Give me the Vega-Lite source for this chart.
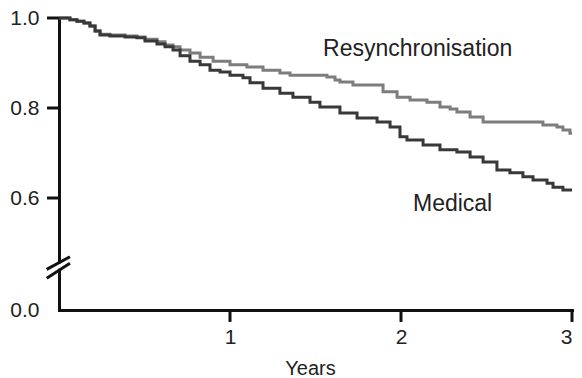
{
  "$schema": "https://vega.github.io/schema/vega-lite/v6.json",
  "autosize": "none",
  "width": 513,
  "height": 292,
  "padding": {"left": 59, "top": 18, "right": 10, "bottom": 68},
  "background": "white",
  "config": {
    "view": {"stroke": null},
    "font": "Liberation Sans"
  },
  "datasets": {
    "survival": [
      {"group": "Resynchronisation", "years": 0, "survival": 1.0},
      {"group": "Resynchronisation", "years": 0.041, "survival": 1.0},
      {"group": "Resynchronisation", "years": 0.064, "survival": 0.996},
      {"group": "Resynchronisation", "years": 0.105, "survival": 0.993},
      {"group": "Resynchronisation", "years": 0.146, "survival": 0.989},
      {"group": "Resynchronisation", "years": 0.181, "survival": 0.982},
      {"group": "Resynchronisation", "years": 0.211, "survival": 0.971},
      {"group": "Resynchronisation", "years": 0.240, "survival": 0.964},
      {"group": "Resynchronisation", "years": 0.298, "survival": 0.962},
      {"group": "Resynchronisation", "years": 0.386, "survival": 0.960},
      {"group": "Resynchronisation", "years": 0.456, "survival": 0.958},
      {"group": "Resynchronisation", "years": 0.503, "survival": 0.953},
      {"group": "Resynchronisation", "years": 0.573, "survival": 0.947},
      {"group": "Resynchronisation", "years": 0.620, "survival": 0.940},
      {"group": "Resynchronisation", "years": 0.667, "survival": 0.936},
      {"group": "Resynchronisation", "years": 0.708, "survival": 0.929},
      {"group": "Resynchronisation", "years": 0.766, "survival": 0.922},
      {"group": "Resynchronisation", "years": 0.825, "survival": 0.913},
      {"group": "Resynchronisation", "years": 0.901, "survival": 0.904},
      {"group": "Resynchronisation", "years": 1.000, "survival": 0.896},
      {"group": "Resynchronisation", "years": 1.099, "survival": 0.891},
      {"group": "Resynchronisation", "years": 1.193, "survival": 0.884},
      {"group": "Resynchronisation", "years": 1.292, "survival": 0.878},
      {"group": "Resynchronisation", "years": 1.351, "survival": 0.873},
      {"group": "Resynchronisation", "years": 1.468, "survival": 0.873},
      {"group": "Resynchronisation", "years": 1.567, "survival": 0.869},
      {"group": "Resynchronisation", "years": 1.614, "survival": 0.862},
      {"group": "Resynchronisation", "years": 1.643, "survival": 0.858},
      {"group": "Resynchronisation", "years": 1.719, "survival": 0.851},
      {"group": "Resynchronisation", "years": 1.819, "survival": 0.851},
      {"group": "Resynchronisation", "years": 1.895, "survival": 0.836},
      {"group": "Resynchronisation", "years": 1.977, "survival": 0.824},
      {"group": "Resynchronisation", "years": 2.053, "survival": 0.818},
      {"group": "Resynchronisation", "years": 2.152, "survival": 0.813},
      {"group": "Resynchronisation", "years": 2.228, "survival": 0.802},
      {"group": "Resynchronisation", "years": 2.287, "survival": 0.798},
      {"group": "Resynchronisation", "years": 2.327, "survival": 0.791},
      {"group": "Resynchronisation", "years": 2.404, "survival": 0.780},
      {"group": "Resynchronisation", "years": 2.480, "survival": 0.769},
      {"group": "Resynchronisation", "years": 2.795, "survival": 0.769},
      {"group": "Resynchronisation", "years": 2.830, "survival": 0.762},
      {"group": "Resynchronisation", "years": 2.912, "survival": 0.758},
      {"group": "Resynchronisation", "years": 2.947, "survival": 0.751},
      {"group": "Resynchronisation", "years": 2.988, "survival": 0.744},
      {"group": "Resynchronisation", "years": 3.0, "survival": 0.744},
      {"group": "Medical", "years": 0, "survival": 1.0},
      {"group": "Medical", "years": 0.041, "survival": 1.0},
      {"group": "Medical", "years": 0.064, "survival": 0.996},
      {"group": "Medical", "years": 0.105, "survival": 0.993},
      {"group": "Medical", "years": 0.146, "survival": 0.989},
      {"group": "Medical", "years": 0.181, "survival": 0.982},
      {"group": "Medical", "years": 0.211, "survival": 0.971},
      {"group": "Medical", "years": 0.240, "survival": 0.962},
      {"group": "Medical", "years": 0.298, "survival": 0.960},
      {"group": "Medical", "years": 0.386, "survival": 0.958},
      {"group": "Medical", "years": 0.456, "survival": 0.956},
      {"group": "Medical", "years": 0.503, "survival": 0.949},
      {"group": "Medical", "years": 0.573, "survival": 0.942},
      {"group": "Medical", "years": 0.620, "survival": 0.936},
      {"group": "Medical", "years": 0.667, "survival": 0.929},
      {"group": "Medical", "years": 0.708, "survival": 0.916},
      {"group": "Medical", "years": 0.766, "survival": 0.904},
      {"group": "Medical", "years": 0.825, "survival": 0.896},
      {"group": "Medical", "years": 0.883, "survival": 0.884},
      {"group": "Medical", "years": 0.942, "survival": 0.880},
      {"group": "Medical", "years": 1.000, "survival": 0.873},
      {"group": "Medical", "years": 1.076, "survival": 0.867},
      {"group": "Medical", "years": 1.117, "survival": 0.856},
      {"group": "Medical", "years": 1.193, "survival": 0.844},
      {"group": "Medical", "years": 1.292, "survival": 0.833},
      {"group": "Medical", "years": 1.368, "survival": 0.824},
      {"group": "Medical", "years": 1.468, "survival": 0.813},
      {"group": "Medical", "years": 1.526, "survival": 0.802},
      {"group": "Medical", "years": 1.643, "survival": 0.789},
      {"group": "Medical", "years": 1.743, "survival": 0.778},
      {"group": "Medical", "years": 1.860, "survival": 0.769},
      {"group": "Medical", "years": 1.936, "survival": 0.758},
      {"group": "Medical", "years": 1.994, "survival": 0.736},
      {"group": "Medical", "years": 2.035, "survival": 0.729},
      {"group": "Medical", "years": 2.129, "survival": 0.718},
      {"group": "Medical", "years": 2.228, "survival": 0.707},
      {"group": "Medical", "years": 2.327, "survival": 0.702},
      {"group": "Medical", "years": 2.404, "survival": 0.691},
      {"group": "Medical", "years": 2.480, "survival": 0.680},
      {"group": "Medical", "years": 2.561, "survival": 0.662},
      {"group": "Medical", "years": 2.637, "survival": 0.656},
      {"group": "Medical", "years": 2.713, "survival": 0.647},
      {"group": "Medical", "years": 2.772, "survival": 0.640},
      {"group": "Medical", "years": 2.854, "survival": 0.633},
      {"group": "Medical", "years": 2.889, "survival": 0.624},
      {"group": "Medical", "years": 2.947, "survival": 0.618},
      {"group": "Medical", "years": 3.0, "survival": 0.618}
    ],
    "labels": [
      {"label": "Resynchronisation", "years": 1.544, "survival": 0.916},
      {"label": "Medical", "years": 2.07, "survival": 0.532}
    ],
    "axisGap": [
      {"years": 0, "years2": 0, "survival": 0.221, "survival2": 0.249}
    ],
    "axisParts": [
      {"years": -0.072, "survival": 0.218, "years2": 0.064, "survival2": 0.2855},
      {"years": -0.072, "survival": 0.170, "years2": 0.064, "survival2": 0.250},
      {"years": -0.07, "survival": 0.6, "years2": 0, "survival2": 0.6},
      {"years": -0.07, "survival": 0.8, "years2": 0, "survival2": 0.8},
      {"years": -0.07, "survival": 1.0, "years2": 0, "survival2": 1.0},
      {"years": 1, "survival": 0, "years2": 1, "survival2": -0.064},
      {"years": 2, "survival": 0, "years2": 2, "survival2": -0.064},
      {"years": 3, "survival": 0, "years2": 3, "survival2": -0.064}
    ]
  },
  "encoding": {
    "x": {
      "field": "years",
      "type": "quantitative",
      "scale": {"domain": [0, 3], "nice": false, "zero": false},
      "axis": {
        "values": [1, 2, 3],
        "format": "d",
        "title": "Years",
        "grid": false,
        "domainColor": "#111111",
        "domainWidth": 3,
        "domainCap": "square",
        "ticks": true,
        "tickColor": "transparent",
        "tickSize": 12,
        "labelFont": "Liberation Sans",
        "labelFontSize": 21,
        "labelColor": "#222222",
        "labelPadding": 4,
        "titleFont": "Liberation Sans",
        "titleFontSize": 20,
        "titleFontWeight": "normal",
        "titleColor": "#222222",
        "titlePadding": 11,
        "titleX": 251
      }
    },
    "y": {
      "field": "survival",
      "type": "quantitative",
      "scale": {"domain": [0, 0.6, 1], "range": [292, 180, 0], "nice": false, "zero": false},
      "axis": {
        "values": [0, 0.6, 0.8, 1],
        "format": ".1f",
        "title": null,
        "grid": false,
        "domainColor": "#111111",
        "domainWidth": 3,
        "domainCap": "square",
        "ticks": true,
        "tickColor": "transparent",
        "tickSize": 12,
        "labelFont": "Liberation Sans",
        "labelFontSize": 21,
        "labelColor": "#222222",
        "labelPadding": 8
      }
    }
  },
  "layer": [
    {
      "data": {"name": "survival"},
      "mark": {"type": "line", "interpolate": "step-after", "strokeWidth": 3, "strokeJoin": "miter"},
      "encoding": {
        "color": {
          "field": "group",
          "type": "nominal",
          "scale": {"domain": ["Resynchronisation", "Medical"], "range": ["#7d7d7d", "#383838"]},
          "legend": null
        }
      }
    },
    {
      "data": {"name": "labels"},
      "mark": {"type": "text", "align": "left", "baseline": "alphabetic", "fontSize": 23, "font": "Liberation Sans", "color": "#222222"},
      "encoding": {"text": {"field": "label"}}
    },
    {
      "data": {"name": "axisGap"},
      "mark": {"type": "rule", "color": "white", "strokeWidth": 6},
      "encoding": {"x2": {"field": "years2"}, "y2": {"field": "survival2"}}
    },
    {
      "data": {"name": "axisParts"},
      "mark": {"type": "rule", "color": "#111111", "strokeWidth": 3},
      "encoding": {"x2": {"field": "years2"}, "y2": {"field": "survival2"}}
    }
  ]
}
